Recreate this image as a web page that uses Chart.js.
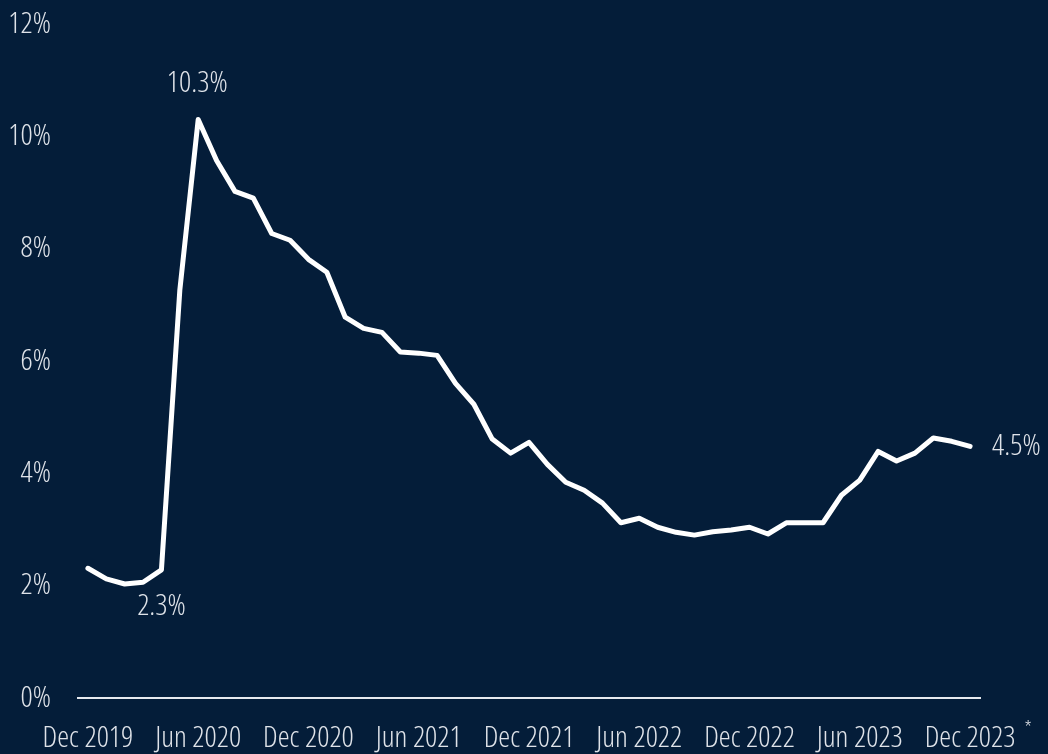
<!DOCTYPE html>
<html>
<head>
<meta charset="utf-8">
<script src="https://cdn.jsdelivr.net/npm/chart.js@4/dist/chart.umd.min.js"></script>
<style>
    html, body { margin: 0; padding: 0; background: #041d39; }
    #wrap { width: 1048px; height: 754px; }
</style>
</head>
<body>
<div id="wrap"><canvas id="rateChart"></canvas></div>
<script>
/* ==================== Data ==================== */
// monthly values, Dec 2019 .. Dec 2023
const rateValues = [
    2.31, 2.12, 2.03, 2.06, 2.28, 7.26, 10.3, 9.57, 9.02, 8.9, 8.27, 8.15,
    7.81, 7.58, 6.78, 6.58, 6.51, 6.16, 6.14, 6.1, 5.6, 5.23, 4.61, 4.36,
    4.55, 4.16, 3.84, 3.7, 3.47, 3.12, 3.2, 3.04, 2.95, 2.9, 2.96, 2.99,
    3.04, 2.92, 3.12, 3.12, 3.12, 3.61, 3.88, 4.39, 4.22, 4.36, 4.63, 4.57,
    4.48
];
const tickPositions = [0, 6, 12, 18, 24, 30, 36, 42, 48];
const tickLabels = ['Dec 2019', 'Jun 2020', 'Dec 2020', 'Jun 2021', 'Dec 2021',
    'Jun 2022', 'Dec 2022', 'Jun 2023', 'Dec 2023'];
const yTicks = [0, 2, 4, 6, 8, 10, 12];
// callouts: [point index, text]
const callouts = [
    [6, '10.3%'],
    [4, '2.3%'],
    [48, '4.5%']
];

/* ==================== Style ==================== */
const TEXT_COLOR = '#dfe3e9';
const FONT_FAMILY = '"Open Sans", "DejaVu Sans Condensed", sans-serif';
// Open Sans is variable in width, the stretch keyword rides along with the weight
const FONT_WEIGHT = '300 condensed';
const FONT_SIZE = 30;
const fontString = size => `${FONT_WEIGHT} ${size}px ${FONT_FAMILY}`;

/* ==================== Callout plugin ==================== */
const calloutPlugin = {
    id: 'callouts',
    afterDatasetsDraw(chart) {
        const ctx = chart.ctx;
        const xs = chart.scales.x;
        const ys = chart.scales.y;
        ctx.save();
        ctx.fillStyle = TEXT_COLOR;
        ctx.font = fontString(FONT_SIZE);
        ctx.textBaseline = 'middle';

        callouts.forEach(([i, text]) => {
            const px = xs.getPixelForValue(i);
            const py = ys.getPixelForValue(rateValues[i]);
            if (i === rateValues.length - 1) {
                ctx.textAlign = 'left';
                ctx.fillText(text, px + 22, py);
            } else if (rateValues[i] > 5) {
                ctx.textAlign = 'center';
                ctx.fillText(text, px - 1, py - 36);
            } else {
                ctx.textAlign = 'center';
                ctx.fillText(text, px, py + 37);
            }
        });

        // footnote mark after the last tick label
        ctx.font = fontString(20);
        ctx.textAlign = 'center';
        ctx.fillText('*', xs.getPixelForValue(48) + 58, 729);
        ctx.restore();
    }
};

/* ==================== Chart ==================== */
const ctx = document.getElementById('rateChart');

new Chart(ctx, {
    type: 'line',
    data: {
        datasets: [{
            data: rateValues.map((v, i) => ({ x: i, y: v })),
            borderColor: '#ffffff',
            borderWidth: 5,
            borderJoinStyle: 'round',
            borderCapStyle: 'round',
            pointRadius: 0,
            tension: 0,
            fill: false
        }]
    },
    options: {
        responsive: true,
        maintainAspectRatio: false,
        animation: false,
        layout: {
            padding: { top: 24, right: 68, left: 0, bottom: 0 }
        },
        plugins: {
            legend: { display: false },
            tooltip: { enabled: false }
        },
        scales: {
            x: {
                type: 'linear',
                min: -0.54,
                max: 48.54,
                afterBuildTicks: scale => {
                    scale.ticks = tickPositions.map(v => ({ value: v }));
                },
                afterFit: scale => {
                    scale.height = 56;
                    scale.paddingLeft = 0;
                    scale.paddingRight = 0;
                },
                grid: { display: false, drawTicks: false },
                border: { display: true, color: '#e6e9ee', width: 2 },
                ticks: {
                    autoSkip: false,
                    maxRotation: 0,
                    padding: 22,
                    color: TEXT_COLOR,
                    font: { family: FONT_FAMILY, size: FONT_SIZE, weight: FONT_WEIGHT },
                    callback: v => tickLabels[tickPositions.indexOf(v)] ?? ''
                }
            },
            y: {
                min: 0,
                max: 12,
                afterBuildTicks: scale => {
                    scale.ticks = yTicks.map(v => ({ value: v }));
                },
                afterFit: scale => {
                    scale.width = 78;
                    scale.paddingTop = 0;
                    scale.paddingBottom = 0;
                },
                grid: { display: false, drawTicks: false },
                border: { display: false },
                ticks: {
                    padding: 27,
                    color: TEXT_COLOR,
                    font: { family: FONT_FAMILY, size: FONT_SIZE, weight: FONT_WEIGHT },
                    callback: v => v + '%'
                }
            }
        }
    },
    plugins: [calloutPlugin]
});
</script>
</body>
</html>
